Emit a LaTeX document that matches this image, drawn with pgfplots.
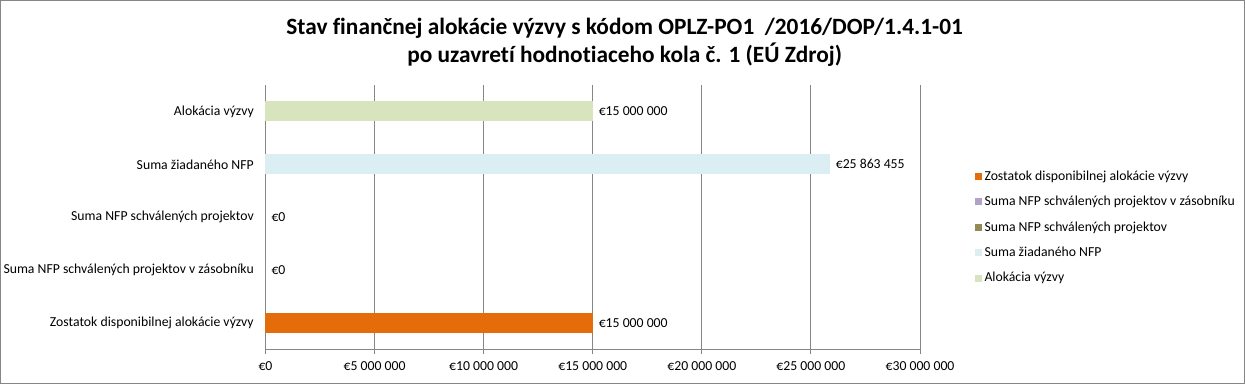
\documentclass[border=0pt]{standalone}
\usepackage{fontspec}
\setmainfont{Carlito}[Ligatures={NoCommon,TeX}]
\usepackage{pgfplots}
\pgfplotsset{compat=1.18}
\definecolor{cOrange}{RGB}{228,108,10}
\definecolor{cPurple}{RGB}{179,162,199}
\definecolor{cOlive}{RGB}{148,139,84}
\definecolor{cBlue}{RGB}{219,238,244}
\definecolor{cGreen}{RGB}{215,228,189}
\definecolor{cGrid}{RGB}{134,134,134}
\begin{document}
\begin{tikzpicture}
\useasboundingbox (0,0) rectangle (933.75pt,288pt);
\draw[cGrid, line width=0.75pt] (0.375pt,0.375pt) rectangle (933.375pt,287.625pt);
\node[font=\fontsize{17.5}{21.5}\selectfont\bfseries, align=center] at (468.5pt,256.3pt)
  {Stav finančnej alokácie výzvy s kódom OPLZ-PO1 \ /2016/DOP/1.4.1-01\\po uzavretí hodnotiaceho kola č. 1 (EÚ Zdroj)};
\begin{axis}[
  at={(199.1pt,25.9pt)}, anchor=south west,
  scale only axis, width=490.9pt, height=198.4pt,
  xmin=0, xmax=30000000, ymin=-0.5, ymax=4.5,
  axis x line*=bottom, axis y line*=left,
  axis line style={cGrid, line width=0.75pt},
  xmajorgrids, grid style={cGrid, line width=0.75pt},
  xtick={0,5000000,10000000,15000000,20000000,25000000,30000000},
  xticklabels={€0,€5 000 000,€10 000 000,€15 000 000,€20 000 000,€25 000 000,€30 000 000},
  scaled x ticks=false,
  ytick={0,1,2,3,4},
  yticklabels={Zostatok disponibilnej alokácie výzvy,Suma NFP schválených projektov v zásobníku,Suma NFP schválených projektov,Suma žiadaného NFP,Alokácia výzvy},
  minor ytick={-0.5,0.5,1.5,2.5,3.5,4.5},
  tick align=outside,
  major tick length=3.75pt, minor tick length=3.75pt,
  tick style={cGrid, line width=0.75pt},
  ytick style={draw=none},
  minor tick style={draw=cGrid},
  tick label style={font=\fontsize{10.3}{12}\selectfont, text=black},
  yticklabel style={xshift=-1.5pt},
  xticklabel style={yshift=-2pt},
  xbar, bar width=15pt, bar shift=0pt,
  every node near coord/.append style={font=\fontsize{10.3}{12}\selectfont, anchor=west, xshift=1pt, text=black},
  legend style={draw=none, fill=none, at={(1.0835,0.462)}, anchor=west,
    font=\fontsize{10.3}{12}\selectfont, row sep=6.4pt, inner sep=0pt},
  legend cell align=left,
  legend image code/.code={\fill[#1] (0pt,-2.6pt) rectangle (5.2pt,2.6pt);},
  clip=false,
]
\addplot[fill=cOrange, draw=none, nodes near coords={€15 000 000}] coordinates {(15000000,0)};
\addlegendentry{Zostatok disponibilnej alokácie výzvy}
\addplot[fill=cPurple, draw=none, nodes near coords={€0}] coordinates {(0,1)};
\addlegendentry{Suma NFP schválených projektov v zásobníku}
\addplot[fill=cOlive, draw=none, nodes near coords={€0}] coordinates {(0,2)};
\addlegendentry{Suma NFP schválených projektov}
\addplot[fill=cBlue, draw=none, nodes near coords={€25 863 455}] coordinates {(25863455,3)};
\addlegendentry{Suma žiadaného NFP}
\addplot[fill=cGreen, draw=none, nodes near coords={€15 000 000}] coordinates {(15000000,4)};
\addlegendentry{Alokácia výzvy}
\end{axis}
\end{tikzpicture}
\end{document}
